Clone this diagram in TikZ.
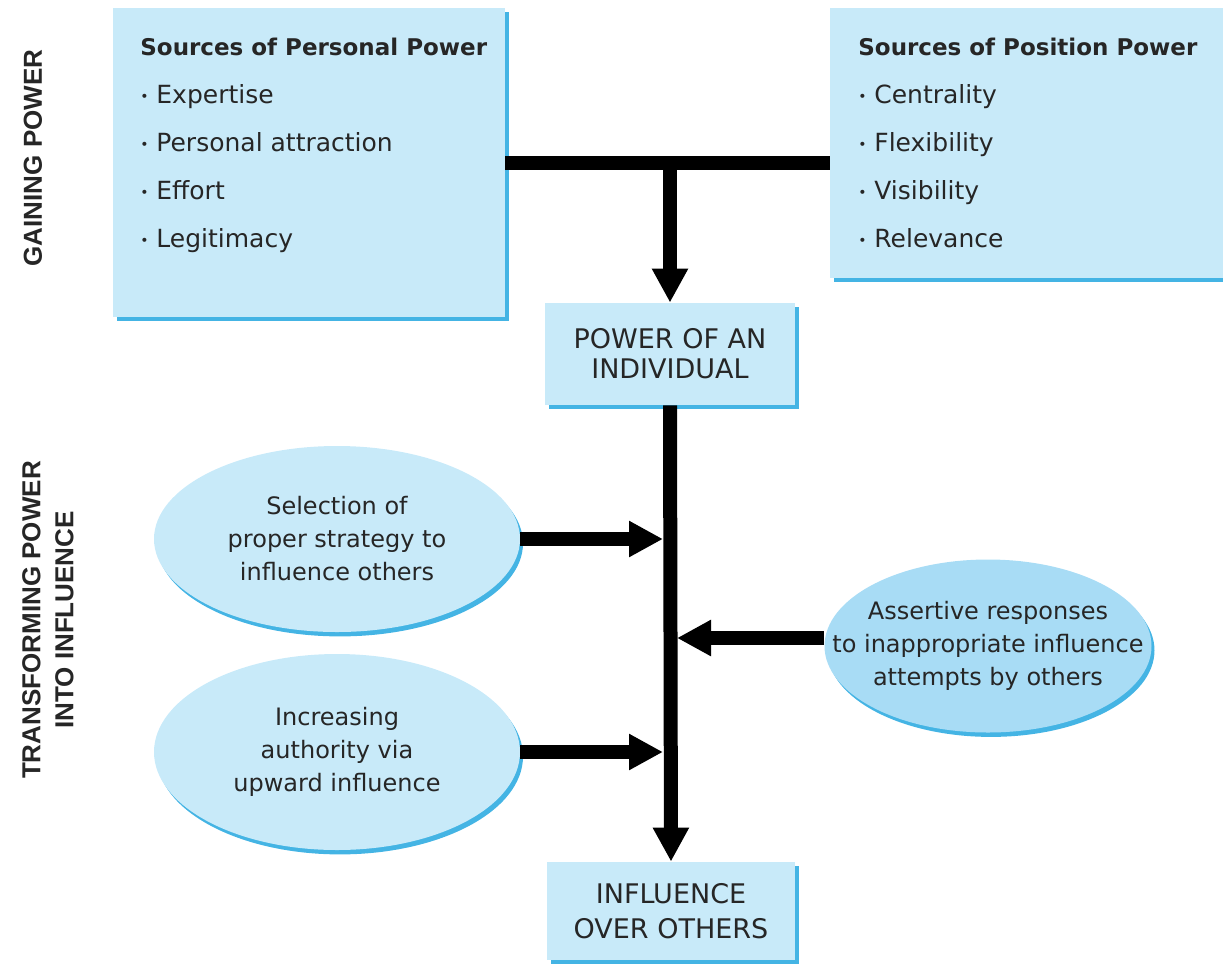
\documentclass[tikz,border=0pt]{standalone}
\usepackage{fontspec}
\setmainfont{DejaVu Sans}
\newfontfamily\labelfont{Liberation Sans}
\usetikzlibrary{shapes,positioning,calc,arrows.meta,shadows}
\definecolor{boxblue}{HTML}{C8EAF9}
\definecolor{edgeblue}{HTML}{44B4E4}
\definecolor{ovalblue}{HTML}{A8DCF5}
\newcommand{\itm}[1]{\makebox[8pt][l]{\raisebox{0.8pt}{\fontsize{7}{7}\selectfont •}}#1}
\tikzset{
	bluebox/.style={fill=boxblue, inner sep=0pt, align=center,
		general shadow={fill=edgeblue, shadow xshift=2pt, shadow yshift=-2.2pt}},
	blueoval/.style={ellipse, fill=boxblue, inner sep=0pt, align=center,
		font=\fontsize{12}{16.5}\selectfont,
		general shadow={fill=edgeblue, shadow xshift=1.5pt, shadow yshift=-2.2pt}},
	listtext/.style={align=left, inner sep=0pt, anchor=north west, font=\fontsize{12.5}{24}\selectfont},
	sidelabel/.style={rotate=90, align=center, inner sep=0pt, font=\labelfont\bfseries\fontsize{13}{16.5}\selectfont},
	barline/.style={line width=7pt},
	bararrow/.style={line width=7pt, -{Triangle[length=17pt,width=17pt]}},
}

\begin{document}
\begin{tikzpicture}[x=0.5pt,y=-0.5pt, text=black!85]
	\useasboundingbox (0,0) rectangle (1223,966);

	\node[sidelabel] (gaining) at (33,158) {GAINING POWER};
	\node[sidelabel] (transforming) at (48,620) {TRANSFORMING POWER\\INTO INFLUENCE};

	\node[bluebox, minimum width=196pt, minimum height=154.5pt] (personal) at (309,162.5) {};
	\node[listtext] (personal text) at (140,37.5) {{\fontsize{11.5}{24}\selectfont\bfseries Sources of Personal Power}\\
		\itm{Expertise}\\ \itm{Personal attraction}\\ \itm{Effort}\\ \itm{Legitimacy}};

	\node[bluebox, minimum width=205pt, minimum height=135pt] (position) at (1035,143) {};
	\node[listtext] (position text) at (858,37.5) {{\fontsize{11.5}{24}\selectfont\bfseries Sources of Position Power}\\
		\itm{Centrality}\\ \itm{Flexibility}\\ \itm{Visibility}\\ \itm{Relevance}};

	\node[bluebox, minimum width=125pt, minimum height=51pt, font=\fontsize{13.5}{15}\selectfont] (power) at (670,354) {POWER OF AN\\INDIVIDUAL};
	\node[bluebox, minimum width=124pt, minimum height=49pt, font=\fontsize{13.5}{17.5}\selectfont] (influence) at (671,911) {INFLUENCE\\OVER OTHERS};

	\node[blueoval, minimum width=183pt, minimum height=93pt] (strategy) at (337,539) {Selection of\\proper strategy to\\influence others};
	\node[blueoval, minimum width=183pt, minimum height=98pt] (authority) at (337,752) {Increasing\\authority via\\upward influence};
	\node[blueoval, fill=ovalblue, inner xsep=-22pt, minimum width=163.5pt, minimum height=86.5pt] (assertive) at (988,646) {Assertive responses\\to inappropriate influence\\attempts by others};

	% gaining power
	\draw[barline] (personal.east) -- (personal.east -| position.west);
	\draw[bararrow] (personal.east -| power.north) -- (power.north);

	% into influence
	\draw[bararrow] (power.south) -- (influence.north);
	\draw[bararrow, shorten >=3.5pt] (strategy.east) -- (strategy.east -| power.south);
	\draw[bararrow, shorten >=3.5pt] (authority.east) -- (authority.east -| power.south);
	\coordinate (assertive in) at ([yshift=4pt]assertive.west);
	\draw[bararrow, shorten >=3.5pt] (assertive in) -- (assertive in -| power.south);
\end{tikzpicture}
\end{document}
